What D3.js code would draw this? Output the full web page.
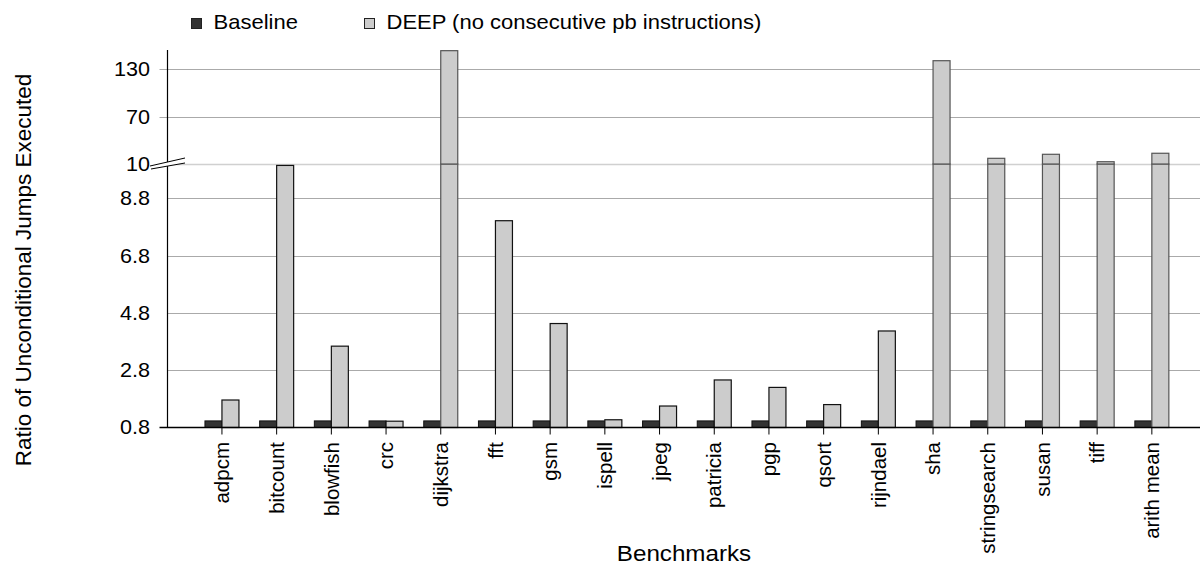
<!DOCTYPE html>
<html lang="en">
	<head>
		<meta charset="utf-8">
		<title>Unconditional Jumps</title>
		<script src="https://cdnjs.cloudflare.com/ajax/libs/d3/7.8.5/d3.min.js"></script>
		<style type="text/css">
			html, body {
				margin: 0;
				padding: 0;
				background: white;
			}
			#chart {
				display: block;
				font-family: "Liberation Sans", Arial, sans-serif;
			}
		</style>
	</head>
	<body>
		<svg id="chart" width="1201" height="569"></svg>

		<script type="text/javascript">

			// data
			var benchmarks = ["adpcm", "bitcount", "blowfish", "crc", "dijkstra", "fft", "gsm", "ispell",
				"jpeg", "patricia", "pgp", "qsort", "rijndael", "sha", "stringsearch", "susan", "tiff", "arith mean"];

			var baseline = [1.03, 1.03, 1.03, 1.03, 1.03, 1.03, 1.03, 1.03, 1.03,
				1.03, 1.03, 1.03, 1.03, 1.03, 1.03, 1.03, 1.03, 1.03];
			var deep     = [1.76, 9.95, 3.64, 1.02, 153.6, 8.02, 4.43, 1.07, 1.55,
				2.46, 2.2, 1.6, 4.17, 140.9, 17.2, 22.3, 12.9, 23.6];

			var lowTicks  = [0.8, 2.8, 4.8, 6.8, 8.8];
			var highTicks = [10, 70, 130];
			var seriesNames = ["Baseline", "DEEP (no consecutive pb instructions)"];

			//---------------------------------------------
			// layout
			//---------------------------------------------
			var axis_x = 167.5;
			var right_x = 1200;
			var base_y = 427.5;
			var break_y = 164;
			var bar_w = 17;
			var stretch = 1.1;   // the source text looks a bit wide

			var svg = d3.select("#chart");

			var x = d3.scaleBand()
				.domain(benchmarks)
				.range([194.6, 194.6 + 54.7 * benchmarks.length]);

			var yLow = d3.scaleLinear().domain([0.8, 10]).range([base_y, break_y]);
			var yHigh = d3.scaleLinear().domain([10, 130]).range([break_y, 69.3]);

			//---------------------------------------------
			// gridlines
			//---------------------------------------------
			svg.append("g").selectAll("line.low")
				.data(lowTicks.slice(1))
				.enter().append("line")
				.attr("x1", axis_x).attr("x2", right_x)
				.attr("y1", function (d) { return Math.round(yLow(d)) + 0.5; })
				.attr("y2", function (d) { return Math.round(yLow(d)) + 0.5; })
				.style("stroke", "#aaaaaa")
				.style("stroke-width", 1);

			svg.append("g").selectAll("line.high")
				.data(highTicks)
				.enter().append("line")
				.attr("x1", axis_x - 8).attr("x2", right_x)
				.attr("y1", function (d) { return Math.round(yHigh(d)) + 0.5; })
				.attr("y2", function (d) { return Math.round(yHigh(d)) + 0.5; })
				.style("stroke", function (d) { return d === 10 ? "#d0d0d0" : "#aaaaaa"; })
				.style("stroke-width", function (d) { return d === 10 ? 1.6 : 1; });

			//---------------------------------------------
			// y tick labels
			//---------------------------------------------
			function tickText(g) {
				g.select(".domain").remove();
				g.selectAll("text")
					.style("font-size", "20px")
					.style("font-family", "Liberation Sans, Arial, sans-serif")
					.attr("fill", "#000")
					.attr("transform", "scale(1.08,1)");
			}

			svg.append("g")
				.attr("transform", "translate(" + (axis_x - 17.5) + ",0)")
				.call(d3.axisLeft(yLow).tickValues(lowTicks).tickSize(0).tickPadding(0).tickFormat(d3.format(".1f")))
				.call(tickText);

			svg.append("g")
				.attr("transform", "translate(" + (axis_x - 17.5) + ",0)")
				.call(d3.axisLeft(yHigh).tickValues(highTicks).tickSize(0).tickPadding(0).tickFormat(d3.format("d")))
				.call(tickText);

			//---------------------------------------------
			// bars
			//---------------------------------------------
			var bars = svg.append("g");

			bars.selectAll("rect.base")
				.data(benchmarks)
				.enter().append("rect")
				.attr("x", function (d) { return x(d) + x.bandwidth() / 2 - bar_w; })
				.attr("y", function (d, i) { return yLow(baseline[i]); })
				.attr("width", bar_w)
				.attr("height", function (d, i) { return base_y - yLow(baseline[i]); })
				.style("fill", "#333333")
				.style("stroke", "#111")
				.style("stroke-width", 1);

			// deep bars - split at the axis break when over 10
			benchmarks.forEach(function (d, i) {
				var v = deep[i];
				var bx = x(d) + x.bandwidth() / 2;
				var top_low = yLow(Math.min(v, 10));
				bars.append("rect")
					.attr("x", bx).attr("y", top_low)
					.attr("width", bar_w).attr("height", base_y - top_low)
					.style("fill", "#cccccc")
					.style("stroke", v > 10 ? "#555" : "#111")
					.style("stroke-width", 1.2);
				if (v > 10) {
					bars.append("rect")
						.attr("x", bx).attr("y", yHigh(v))
						.attr("width", bar_w).attr("height", yHigh(10) - yHigh(v))
						.style("fill", "#cccccc")
						.style("stroke", "#555")
						.style("stroke-width", 1.2);
				}
			});

			//---------------------------------------------
			// axes lines
			//---------------------------------------------
			svg.append("line")
				.attr("x1", axis_x).attr("x2", axis_x)
				.attr("y1", 50).attr("y2", base_y)
				.style("stroke", "#000").style("stroke-width", 1.2);

			svg.append("line")
				.attr("x1", axis_x - 8).attr("x2", right_x)
				.attr("y1", base_y).attr("y2", base_y)
				.style("stroke", "#000").style("stroke-width", 1.5);

			// x ticks
			svg.append("g").selectAll("line")
				.data(benchmarks)
				.enter().append("line")
				.attr("x1", function (d) { return x(d) + x.bandwidth() / 2; })
				.attr("x2", function (d) { return x(d) + x.bandwidth() / 2; })
				.attr("y1", base_y).attr("y2", base_y + 7)
				.style("stroke", "#000").style("stroke-width", 1);

			// break marks on the y axis
			var brk = svg.append("g");
			brk.append("polygon")
				.attr("points", "150,166 185,158 185,163 151,169")
				.style("fill", "white");
			brk.append("line")
				.attr("x1", 150).attr("y1", 166).attr("x2", 185).attr("y2", 158)
				.style("stroke", "#000").style("stroke-width", 1);
			brk.append("line")
				.attr("x1", 151).attr("y1", 169).attr("x2", 185).attr("y2", 163)
				.style("stroke", "#000").style("stroke-width", 1);

			//---------------------------------------------
			// labels
			//---------------------------------------------
			svg.append("g").selectAll("text")
				.data(benchmarks)
				.enter().append("text")
				.attr("transform", function (d) { return "translate(" + (x(d) + x.bandwidth() / 2) + ",442) rotate(-90)"; })
				.attr("dy", "0.35em")
				.attr("text-anchor", "end")
				.style("font-size", "20.5px")
				.text(function (d) { return d; });

			svg.append("text")
				.attr("transform", "translate(684,561) scale(" + stretch + ",1)")
				.attr("text-anchor", "middle")
				.style("font-size", "22px")
				.text("Benchmarks");

			svg.append("text")
				.attr("transform", "translate(31,270) rotate(-90)")
				.attr("text-anchor", "middle")
				.style("font-size", "22.5px")
				.text("Ratio of Unconditional Jumps Executed");

			// legend
			var legend = svg.append("g");
			var legend_x = [191, 364];
			var legend_fill = ["#333333", "#cccccc"];
			legend.selectAll("rect")
				.data(seriesNames)
				.enter().append("rect")
				.attr("x", function (d, i) { return legend_x[i] + 0.5; })
				.attr("y", 18.5)
				.attr("width", 10).attr("height", 10)
				.style("fill", function (d, i) { return legend_fill[i]; })
				.style("stroke", "#222").style("stroke-width", 1);
			legend.selectAll("text")
				.data(seriesNames)
				.enter().append("text")
				.attr("transform", function (d, i) { return "translate(" + (legend_x[i] + 22.5) + ",29) scale(" + stretch + ",1)"; })
				.style("font-size", "20px")
				.text(function (d) { return d; });

		</script>
	</body>
</html>
